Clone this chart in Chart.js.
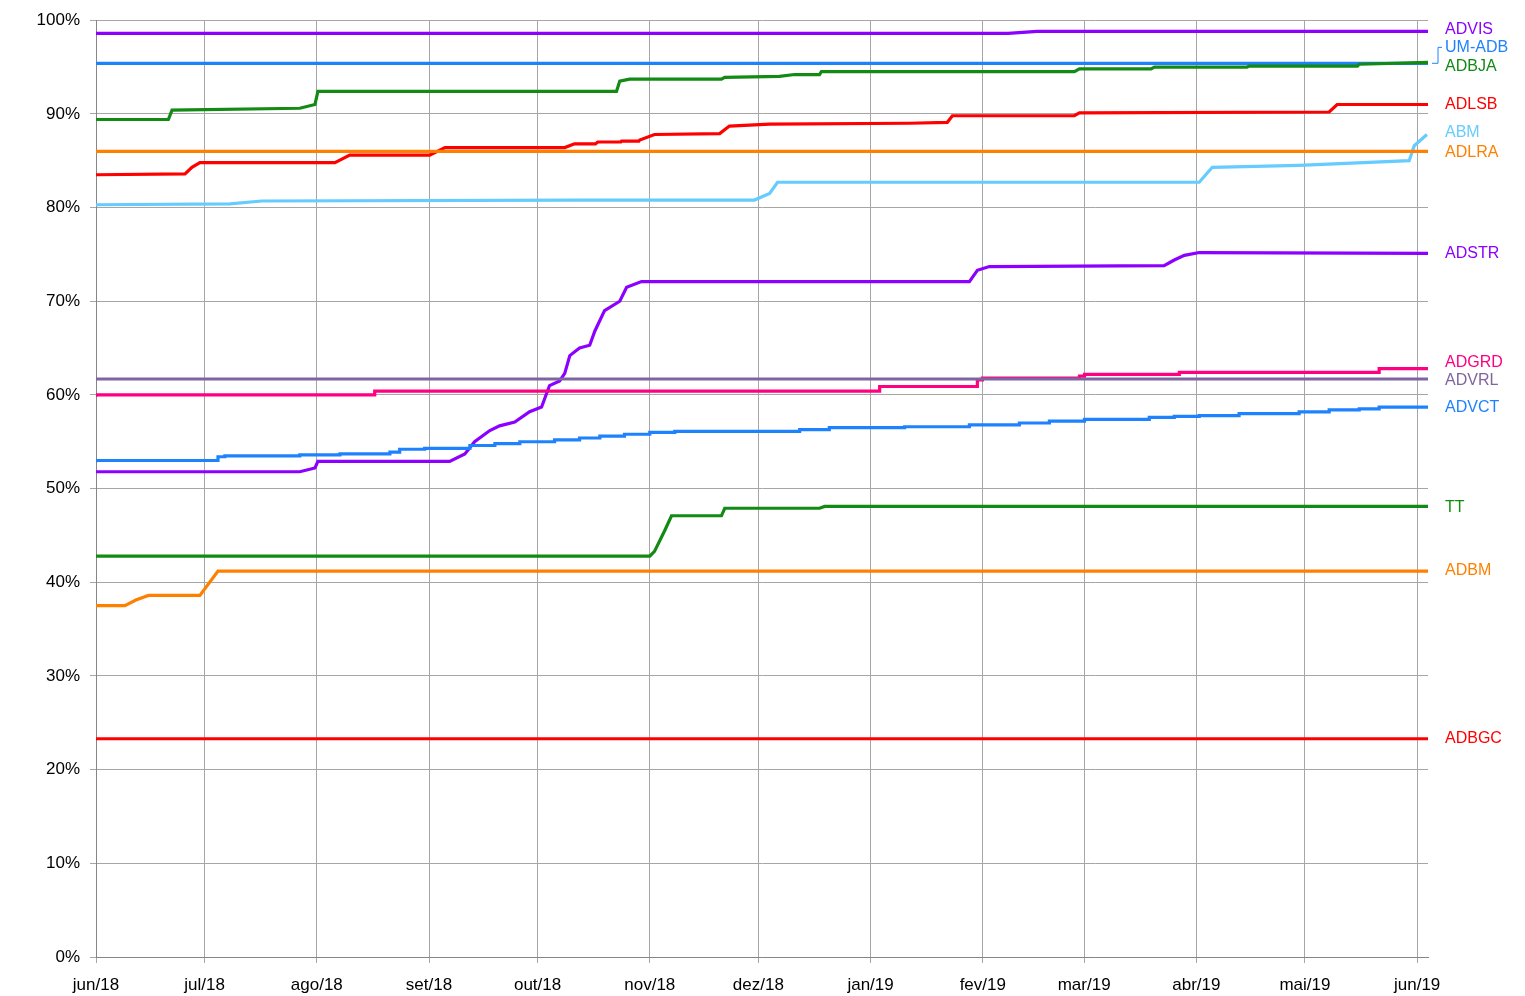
<!DOCTYPE html>
<html><head><meta charset="utf-8">
<script src="https://cdn.jsdelivr.net/npm/chart.js@4/dist/chart.umd.min.js"></script>
<style>html,body{margin:0;padding:0;background:#fff}#wrap{width:1525px;height:996px}</style>
</head><body><div id="wrap"><canvas id="c"></canvas></div>
<script>
// x = days since 1 Jun 2018, y = percent
const monthDays = [0,30,61,92,122,153,183,214,245,273,304,334,365];
const monthLabels = ["jun/18","jul/18","ago/18","set/18","out/18","nov/18","dez/18","jan/19","fev/19","mar/19","abr/19","mai/19","jun/19"];
const seriesNames = ["ADBGC","ADBM","TT","ADVCT","ADVRL","ADGRD","ADSTR","ADLRA","ABM","ADLSB","ADBJA","UM-ADB","ADVIS"];
const seriesColors = ["#ff0000","#ff8000","#138a13","#1e82ff","#8064a2","#ff0080","#8b00ff","#ff8000","#66ccff","#ff0000","#138a13","#1e82ff","#8b00ff"];
const seriesStepped = [false,false,false,true,false,true,false,false,false,false,false,false,false];
const labelAnchors = [23.3,41.2,48.0,58.6,61.5,63.4,75.1,85.9,88.0,91.0,95.0,97.1,99.0];
const ADBGC = [[0,23.3],[368,23.3]];
const ADBM = [[0,37.5],[8,37.5],[11,38.1],[14.5,38.6],[28.7,38.6],[33.7,41.2],[368,41.2]];
const TT = [[0,42.8],[153,42.8],[154.3,43.3],[157.1,45.5],[159,47.1],[172.8,47.1],[173.7,47.9],[199.9,47.9],[201.3,48.1],[368,48.1]];
const ADVCT = [[0,52.8],[9.4,53.0],[33.7,53.0],[35.6,53.4],[56.3,53.5],[67.4,53.6],[81.2,53.7],[83.9,53.9],[90.8,54.2],[103.3,54.3],[110.2,54.6],[117.1,54.8],[126.7,55.0],[133.6,55.2],[139.2,55.4],[146,55.6],[153,55.8],[159.9,56.0],[194.4,56.1],[202.6,56.3],[223.4,56.5],[241.3,56.6],[255.1,56.8],[263.4,57.0],[273.1,57.2],[291,57.4],[297.9,57.6],[304.8,57.7],[315.8,57.8],[332.4,58.0],[340.7,58.2],[349,58.4],[354.5,58.5],[365.5,58.7],[368,58.7]];
const ADVRL = [[0,61.7],[368,61.7]];
const ADGRD = [[0,59.8],[9.4,60.0],[77,60.0],[81.2,60.4],[216.5,60.4],[217.3,60.9],[243.5,60.9],[244.9,61.6],[271.7,61.8],[273.1,62.0],[299.3,62.2],[321.4,62.4],[354.5,62.4],[355.9,62.8],[368,62.8]];
const ADSTR = [[0,51.8],[56.3,51.8],[60.5,52.2],[61.3,52.9],[97.7,52.9],[101.9,53.7],[104.6,55.0],[108.8,56.2],[111.5,56.7],[115.7,57.1],[119.8,58.2],[123.1,58.7],[125.3,61.0],[128.1,61.5],[129.5,62.3],[130.9,64.2],[133.6,65.0],[136.4,65.3],[137.8,66.8],[140.5,69.0],[144.7,70.0],[146.6,71.5],[150.7,72.1],[241.3,72.1],[243.5,73.3],[246.8,73.7],[295.1,73.8],[297.9,74.4],[300.7,74.9],[304.8,75.2],[368,75.1]];
const ADLRA = [[0,86.0],[368,86.0]];
const ABM = [[0,80.3],[37,80.4],[45.8,80.7],[133.6,80.8],[181.9,80.8],[186.1,81.5],[188.3,82.7],[304.8,82.7],[308.4,84.3],[332.4,84.5],[362.8,85.0],[364.2,86.6],[367.7,87.8]];
const ADLSB = [[0,83.5],[24.6,83.6],[26.5,84.3],[28.7,84.8],[66,84.8],[70.1,85.6],[92.2,85.6],[96.4,86.4],[129.5,86.4],[132.2,86.8],[138,86.8],[138.6,87.0],[145,87.0],[145.2,87.1],[150,87.1],[150.2,87.2],[154.3,87.8],[172.3,87.9],[175,88.7],[186.1,88.9],[224.7,89.0],[235.2,89.1],[236.6,89.8],[270.3,89.8],[271.7,90.1],[340.7,90.2],[342.9,91.0],[368,91.0]];
const ADBJA = [[0,89.4],[20,89.4],[21,90.4],[56.3,90.6],[60.5,91.0],[61.3,92.4],[143.8,92.4],[144.7,93.5],[147.4,93.7],[172.8,93.7],[173.7,93.9],[188.8,94.0],[193,94.2],[199.9,94.2],[200.4,94.5],[270.3,94.5],[271.7,94.8],[291.5,94.8],[292.4,95.0],[318,95.0],[318.6,95.1],[348.5,95.1],[349,95.3],[368,95.5]];
const UMADB = [[0,95.4],[368,95.4]];
const ADVIS = [[0,98.6],[252,98.6],[256,98.7],[260,98.8],[368,98.8]];
const seriesData = [ADBGC,ADBM,TT,ADVCT,ADVRL,ADGRD,ADSTR,ADLRA,ABM,ADLSB,ADBJA,UMADB,ADVIS];

const FONT = "'Liberation Sans', Arial, sans-serif";
const labelPlugin = {
  id:'endLabels',
  afterDatasetsDraw(chart){
    const ctx = chart.ctx, y = chart.scales.y, a = chart.chartArea;
    ctx.save();
    ctx.font = "16px " + FONT;
    ctx.textBaseline = 'middle';
    seriesNames.forEach((n,i)=>{
      const py = y.getPixelForValue(labelAnchors[i]);
      const d = seriesData[i];
      const ly = y.getPixelForValue(d[d.length-1][1]);
      ctx.fillStyle = seriesColors[i];
      if (Math.abs(py-ly) > 6) {
        ctx.strokeStyle = seriesColors[i]; ctx.lineWidth = 1;
        ctx.beginPath(); ctx.moveTo(a.right+4, ly); ctx.lineTo(a.right+10, ly);
        ctx.lineTo(a.right+10, py); ctx.lineTo(a.right+14, py); ctx.stroke();
      }
      ctx.fillText(n, a.right+17, py);
    });
    ctx.restore();
  }
};

new Chart(document.getElementById('c'), {
  type:'line',
  data:{datasets: seriesNames.map((n,i)=>({
    label:n, data: seriesData[i].map(p=>({x:p[0],y:p[1]})),
    borderColor: seriesColors[i], borderWidth:3.2, pointRadius:0, tension:0, fill:false,
    stepped: seriesStepped[i] ? 'after' : false
  }))},
  options:{
    responsive:true, maintainAspectRatio:false, animation:false,
    layout:{padding:{top:16,right:97,left:0,bottom:0}},
    plugins:{legend:{display:false},tooltip:{enabled:false}},
    scales:{
      x:{type:'linear',min:0,max:368,
        afterBuildTicks(s){ s.ticks = monthDays.map(v=>({value:v})); },
        afterFit(s){ s.height = 39; },
        ticks:{autoSkip:false,maxRotation:0,color:'#000',font:{size:17,family:FONT},padding:12,
          callback:(v)=>{const k=monthDays.indexOf(v);return k>=0?monthLabels[k]:'';}},
        grid:{color:'#a6a6a6',lineWidth:1,tickLength:6},
        border:{color:'#868686'}},
      y:{min:0,max:100,
        afterFit(s){ s.width = 96; },
        ticks:{stepSize:10,color:'#000',font:{size:17,family:FONT},padding:10,callback:v=>v+'%'},
        grid:{color:'#a6a6a6',lineWidth:1,tickLength:6},
        border:{color:'#868686'}}
    }
  },
  plugins:[labelPlugin]
});
</script></body></html>
